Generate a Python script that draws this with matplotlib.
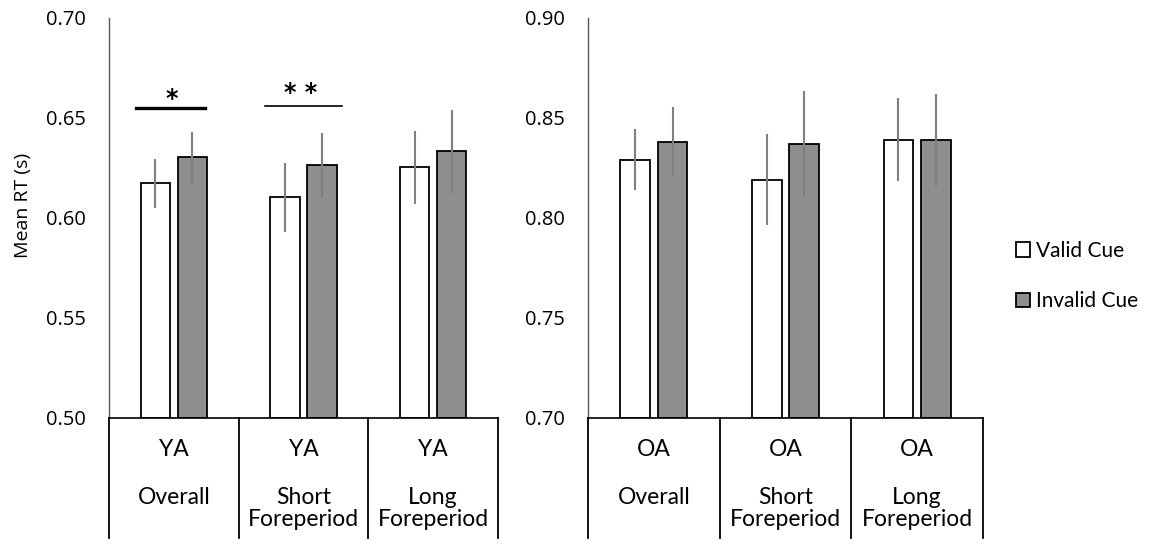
import matplotlib
matplotlib.use("Agg")
import matplotlib.pyplot as plt
import numpy as np

# Mean RT by group and condition (seconds)
age_groups = ["YA", "OA"]
conditions = [["Overall"], ["Short", "Foreperiod"], ["Long", "Foreperiod"]]
series = ["Valid Cue", "Invalid Cue"]

ya_valid = [0.617, 0.610, 0.625]
ya_invalid = [0.630, 0.626, 0.633]
ya_valid_err = [0.0124, 0.0174, 0.0182]
ya_invalid_err = [0.0130, 0.0163, 0.0208]

oa_valid = [0.829, 0.819, 0.839]
oa_invalid = [0.838, 0.837, 0.839]
oa_valid_err = [0.0153, 0.0226, 0.0209]
oa_invalid_err = [0.0172, 0.0265, 0.0230]

ya_ticks = [0.50, 0.55, 0.60, 0.65, 0.70]
oa_ticks = [0.70, 0.75, 0.80, 0.85, 0.90]

# significance markers over YA conditions: (condition index, label, line height)
ya_sig = [(0, "*", 0.6547), (1, "**", 0.6559)]

W, H = 1155, 544
fig = plt.figure(figsize=(W / 100, H / 100), dpi=100)

tick_font = "Open Sans"
cat_font = "Lato"
fill_colors = ["white", "#8e8e8e"]
err_color = "#7f7f7f"

bar_w = 0.226
offset = 0.142
AX_TOP, AX_BOT = 17.5, 417.5


def fx(px):
    return px / W


def fy(py):
    return 1 - py / H


def below(py):
    # axes-fraction y for a pixel row under the plot area
    return -(py - AX_BOT) / (AX_BOT - AX_TOP)


def panel(x0, x1, group, valid, invalid, verr, ierr, ticks):
    ax = fig.add_axes([fx(x0), fy(AX_BOT), fx(x1 - x0), fy(AX_TOP) - fy(AX_BOT)])
    idx = np.arange(len(conditions))
    for k, (vals, errs) in enumerate([(valid, verr), (invalid, ierr)]):
        pos = idx + (-offset if k == 0 else offset)
        ax.bar(pos, np.array(vals) - ticks[0], bottom=ticks[0], width=bar_w,
               color=fill_colors[k], edgecolor="black", linewidth=1.3,
               zorder=2, label=series[k])
        ax.errorbar(pos, vals, yerr=errs, fmt="none", ecolor=err_color,
                    elinewidth=1.5, capsize=0, zorder=3)
    ax.set_xlim(-0.5, len(conditions) - 0.5)
    ax.set_ylim(ticks[0], ticks[-1])
    ax.set_yticks(ticks)
    ax.set_yticklabels([f"{t:.2f}" for t in ticks], fontfamily=tick_font,
                       fontsize=14.5)
    ax.set_xticks([])
    for s in ["top", "right"]:
        ax.spines[s].set_visible(False)
    ax.spines["left"].set_color("#595959")
    ax.spines["left"].set_linewidth(1.0)
    ax.spines["bottom"].set_color("black")
    ax.spines["bottom"].set_linewidth(1.2)
    ax.tick_params(axis="y", length=0, pad=17)

    # category table beneath the axis
    trans = ax.get_xaxis_transform()
    edges = np.arange(len(conditions) + 1) - 0.5
    for e in edges:
        ax.plot([e, e], [0, below(538)], transform=trans,
                color="black", lw=1.3, clip_on=False, zorder=4)
    for i, lines in enumerate(conditions):
        ax.text(i, below(449), group, transform=trans, ha="center",
                va="center", fontfamily=cat_font, fontsize=16.5)
        for j, line in enumerate(lines):
            ax.text(i, below(497 + 23 * j), line, transform=trans,
                    ha="center", va="center", fontfamily=cat_font,
                    fontsize=16.5)
    return ax


ax1 = panel(109, 498, "YA", ya_valid, ya_invalid, ya_valid_err,
            ya_invalid_err, ya_ticks)
ax2 = panel(588, 983, "OA", oa_valid, oa_invalid, oa_valid_err,
            oa_invalid_err, oa_ticks)

ax1.set_ylabel("Mean RT (s)", fontfamily=tick_font, fontsize=14)
ax1.yaxis.set_label_coords(-0.198, 0.531)

# significance brackets
for i, lab, yl in ya_sig:
    if lab == "*":
        xs, lw, dy = [i - 0.29, i + 0.24], 2.4, 0.0046
    else:
        xs, lw, dy = [i - 0.30, i + 0.30], 1.2, 0.0062
    ax1.plot(xs, [yl, yl], color="black", lw=lw, zorder=4)
    ax1.text(i - 0.02, yl + dy, " ".join(lab) if len(lab) > 1 else lab,
             ha="center", va="center", fontfamily="DejaVu Sans",
             fontsize=17, fontweight="bold")

# legend
handles, labels = ax2.get_legend_handles_labels()
leg = fig.legend(handles, labels, loc="center left",
                 bbox_to_anchor=(fx(997), fy(276)), frameon=False,
                 prop={"family": cat_font, "size": 15}, handlelength=0.7,
                 handleheight=0.7, handletextpad=0.25, labelspacing=1.45)

fig.savefig("out.png", dpi=100)
